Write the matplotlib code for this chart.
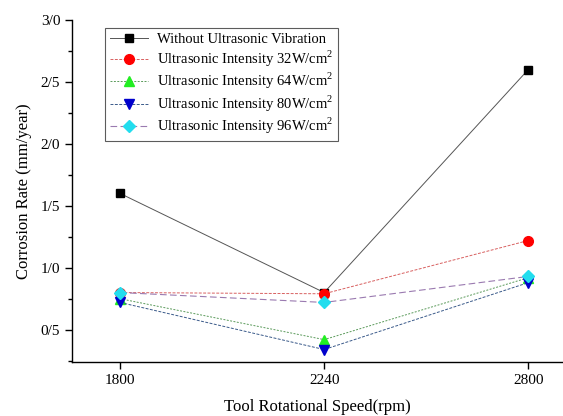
import matplotlib
matplotlib.use("Agg")
from matplotlib import pyplot as plt
from matplotlib.ticker import FixedLocator, FixedFormatter, MultipleLocator

plt.rcParams['font.family'] = ['Liberation Serif', 'DejaVu Serif']
plt.rcParams['mathtext.fontset'] = 'custom'
plt.rcParams['mathtext.rm'] = 'Liberation Serif'

speeds = ['1800', '2240', '2800']
without_uv = [1.60, 0.80, 2.60]
uv_32 = [0.80, 0.79, 1.22]
uv_64 = [0.75, 0.42, 0.92]
uv_80 = [0.72, 0.34, 0.88]
uv_96 = [0.80, 0.72, 0.93]

y_ticks = [0.5, 1.0, 1.5, 2.0, 2.5, 3.0]
y_labels = ['0/5', '1/0', '1/5', '2/0', '2/5', '3/0']

fig = plt.figure(figsize=(5.63, 4.16), dpi=100)
ax = fig.add_axes([0.128, 0.13, 0.872, 0.822])

x = list(range(len(speeds)))

ax.plot(x, without_uv, color='#555555', lw=0.7, ls='-',
        marker='s', ms=6, mfc='black', mec='black',
        label='Without Ultrasonic Vibration')
ax.plot(x, uv_32, color='#d86060', lw=0.7, ls=(0, (3, 1.5)),
        marker='o', ms=7, mfc='red', mec='red',
        label='Ultrasonic Intensity 32W/cm$^2$')
ax.plot(x, uv_64, color='#5a9a5a', lw=0.7, ls=(0, (2, 1.5)),
        marker='^', ms=7, mfc='#22ee22', mec='#22ee22',
        label='Ultrasonic Intensity 64W/cm$^2$')
ax.plot(x, uv_80, color='#3a5a8a', lw=0.7, ls=(0, (3, 1.5)),
        marker='v', ms=7, mfc='#0000cc', mec='#0000cc',
        label='Ultrasonic Intensity 80W/cm$^2$')
ax.plot(x, uv_96, color='#9a7ab0', lw=0.8, ls=(0, (6, 3)),
        marker='D', ms=6, mfc='#22ddee', mec='#22ddee',
        label='Ultrasonic Intensity 96W/cm$^2$')

ax.set_xlim(-0.235, 2.17)
ax.set_ylim(0.24, 3.0)
ax.set_xticks(x)
ax.set_xticklabels(speeds)
ax.yaxis.set_major_locator(FixedLocator(y_ticks))
ax.yaxis.set_major_formatter(FixedFormatter(y_labels))
ax.yaxis.set_minor_locator(MultipleLocator(0.25))

for s in ['top', 'right']:
    ax.spines[s].set_visible(False)
for s in ['left', 'bottom']:
    ax.spines[s].set_linewidth(1.0)
ax.tick_params(axis='both', which='major', direction='out', length=5,
               width=1.0, labelsize=11)
ax.tick_params(axis='y', which='minor', direction='out', length=3, width=1.0)

ax.set_xlabel('Tool Rotational Speed(rpm)', fontsize=12, labelpad=9)
ax.set_ylabel('Corrosion Rate (mm/year)', fontsize=12, labelpad=6)

leg = ax.legend(loc='upper left', bbox_to_anchor=(0.067, 0.977), fontsize=10.5,
                frameon=True, fancybox=False, edgecolor='#333333',
                handlelength=2.6, borderpad=0.35, labelspacing=0.15,
                handletextpad=0.6, borderaxespad=0)
leg.get_frame().set_linewidth(0.8)

fig.savefig('out.png', dpi=100)
